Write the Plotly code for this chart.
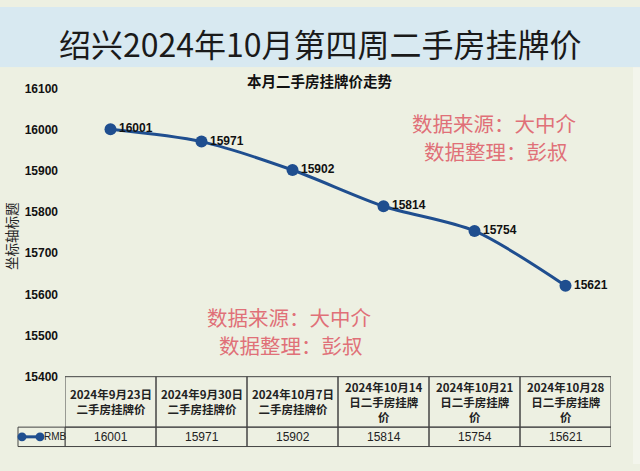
import plotly.graph_objects as go

# ---- data ----
categories = ["2024年9月23日<br>二手房挂牌价", "2024年9月30日<br>二手房挂牌价",
              "2024年10月7日<br>二手房挂牌价", "2024年10月14<br>日二手房挂牌<br>价",
              "2024年10月21<br>日二手房挂牌<br>价", "2024年10月28<br>日二手房挂牌<br>价"]
values = [16001, 15971, 15902, 15814, 15754, 15621]
series_name = "RMB"
y_ticks = [15400, 15500, 15600, 15700, 15800, 15900, 16000, 16100]
title_text = "绍兴2024年10月第四周二手房挂牌价"
chart_title = "本月二手房挂牌价走势"
y_title = "坐标轴标题"
watermark_lines = ["数据来源：大中介", "数据整理：彭叔"]

W, H = 640, 471
def py(pix):  # pixel-from-top -> paper
    return 1 - pix / H

LINE = "#1f4e8f"
BORDER = "#444444"
CJK = "Noto Sans CJK SC"

xs = list(range(len(values)))

fig = go.Figure()
fig.add_trace(go.Scatter(
    x=xs, y=values, mode="lines+markers+text",
    line=dict(color=LINE, width=3, shape="spline", smoothing=0.8),
    marker=dict(color=LINE, size=12),
    text=[str(v) for v in values], textposition="middle right",
    textfont=dict(family="Liberation Sans", size=12, color="#111111", weight="bold"),
    cliponaxis=False, showlegend=False, name=series_name,
))

shapes = []
annotations = []
# background bands
shapes.append(dict(type="rect", xref="paper", yref="paper", x0=0, x1=1, y0=py(62), y1=1,
                   fillcolor="#d8e9f1", line=dict(width=0), layer="below"))
shapes.append(dict(type="rect", xref="paper", yref="paper", x0=0, x1=1, y0=0, y1=py(62),
                   fillcolor="#edf0e2", line=dict(width=0), layer="below"))
shapes.append(dict(type="rect", xref="paper", yref="paper", x0=633/W, x1=1, y0=0, y1=py(62),
                   fillcolor="#f3f5ec", line=dict(width=0), layer="below"))

# data table under the plot
top, mid, bot = 381, 433, 453
for i, cat in enumerate(categories):
    shapes.append(dict(type="rect", xref="x", yref="paper", x0=i - 0.5, x1=i + 0.5,
                       y0=py(mid), y1=py(top), line=dict(color=BORDER, width=1)))
    shapes.append(dict(type="rect", xref="x", yref="paper", x0=i - 0.5, x1=i + 0.5,
                       y0=py(bot), y1=py(mid), line=dict(color=BORDER, width=1)))
    annotations.append(dict(x=i, y=py((top + mid) / 2), xref="x", yref="paper",
                            text=cat, showarrow=False,
                            font=dict(family=CJK, size=11.5, color="#222222", weight="bold"),
                            align="center", yanchor="middle"))
    annotations.append(dict(x=i, y=py((mid + bot) / 2), xref="x", yref="paper",
                            text=str(values[i]), showarrow=False,
                            font=dict(family="Liberation Sans", size=12, color="#222222"),
                            yanchor="middle"))
# legend cell
shapes.append(dict(type="rect", xref="paper", yref="paper", x0=18 / W, x1=65 / W,
                   y0=py(bot), y1=py(mid), line=dict(color=BORDER, width=1)))
shapes.append(dict(type="line", xref="paper", yref="paper", x0=22 / W, x1=40 / W,
                   y0=py(443), y1=py(443), line=dict(color=LINE, width=3)))
for xp in (22, 40):
    shapes.append(dict(type="circle", xref="paper", yref="paper",
                       x0=(xp - 4.5) / W, x1=(xp + 4.5) / W,
                       y0=py(447.5), y1=py(438.5), fillcolor=LINE, line=dict(width=0)))
annotations.append(dict(x=42 / W, y=py(443), xref="paper", yref="paper", text=series_name,
                        showarrow=False, xanchor="left", yanchor="middle",
                        font=dict(family="Liberation Sans", size=10, color="#222222")))

# titles
annotations.append(dict(x=0.5, y=py(37), xref="paper", yref="paper", text=title_text,
                        showarrow=False, yanchor="middle",
                        font=dict(family=CJK, size=32, color="#1a1a1a")))
annotations.append(dict(x=319 / W, y=py(76), xref="paper", yref="paper", text=chart_title,
                        showarrow=False, yanchor="middle",
                        font=dict(family=CJK, size=14.5, color="#111111", weight="bold")))
annotations.append(dict(x=11 / W, y=py(236), xref="paper", yref="paper", text=y_title,
                        showarrow=False, textangle=-90, xanchor="center", yanchor="middle",
                        font=dict(family=CJK, size=13.5, color="#222222")))
# watermarks
for cx, cy in ((494, 120), (289, 320)):
    for k, line in enumerate(watermark_lines):
        annotations.append(dict(x=(cx + 2 * k) / W, y=py(cy + 28 * k), xref="paper", yref="paper",
                                text=line, showarrow=False, xanchor="center", yanchor="middle",
                                borderpad=0,
                                font=dict(family=CJK, size=20.5, color="#e07078")))

fig.update_layout(
    width=W, height=H, margin=dict(l=0, r=0, t=0, b=0),
    paper_bgcolor="#edf0e2", plot_bgcolor="rgba(0,0,0,0)",
    xaxis=dict(domain=[65 / W, 611 / W], range=[-0.5, len(values) - 0.5],
               showgrid=False, zeroline=False, showticklabels=False, showline=False),
    yaxis=dict(domain=[py(381), py(84)], range=[15400, 16100], tickvals=y_ticks,
               tickformat="d", showgrid=False, zeroline=False, showline=False,
               tickfont=dict(family="Liberation Sans", size=12, color="#111111", weight="bold"),
               ticklabelstandoff=6),
    shapes=shapes, annotations=annotations,
)
fig.write_html("out.html", config={"displayModeBar": False},
               post_script="document.body.style.margin='0';document.body.style.overflow='hidden';")
